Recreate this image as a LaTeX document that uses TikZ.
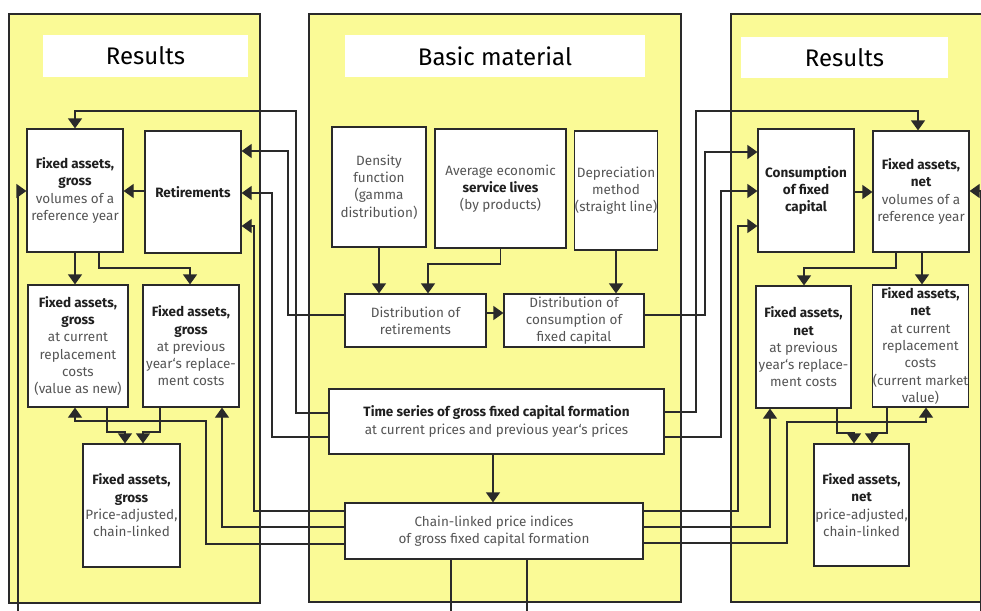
\documentclass[tikz,border=0pt]{standalone}
\usepackage{fontspec}
\setmainfont{Fira Sans}
\usetikzlibrary{arrows.meta}
\definecolor{panelyellow}{HTML}{FAFA96}
\definecolor{txtgray}{HTML}{555555}
\definecolor{linec}{HTML}{2A2A2A}
\newcommand{\bk}[1]{{\bfseries\color{black!88}#1}}
\begin{document}
\begin{tikzpicture}[x=1pt,y=-1pt,
  panel/.style={fill=panelyellow,draw=linec,line width=1.2pt},
  box/.style={draw=linec,fill=white,line width=1.2pt,inner sep=0pt,align=center,
    font=\fontsize{13.5}{17.3}\selectfont,text=txtgray},
  head/.style={fill=white,inner sep=0pt,font=\fontsize{24}{26}\selectfont,text=black},
  conn/.style={draw=linec,line width=1.2pt},
  arr/.style={conn,-{Triangle[width=14pt,length=10pt]}},
]
\fill[white] (0,0) rectangle (981,610);
\useasboundingbox (0,0) rectangle (981,610);

% panels
\draw[panel] (9,14) rectangle (260,603);
\draw[panel] (309,14) rectangle (681,602);
\draw[panel] (731,14) rectangle (990,602);

% headers
\node[head,minimum width=205pt,minimum height=42pt] (hl) at (145.5,56) {Results};
\node[head,minimum width=300pt,minimum height=42pt] (hm) at (495,56) {Basic material};
\node[head,minimum width=207pt,minimum height=41pt] (hr) at (844.5,57.5) {Results};

% left column
\node[box,minimum width=96pt,minimum height=123pt] (fgv) at (75,190.5)
  {\bk{Fixed assets,}\\\bk{gross}\\volumes of a\\reference year};
\node[box,minimum width=96pt,minimum height=122pt] (ret) at (193,192)
  {\bk{Retirements}};
\node[box,minimum width=100pt,minimum height=122pt] (fgc) at (78,346)
  {\bk{Fixed assets,}\\\bk{gross}\\at current\\replacement\\costs\\(value as new)};
\node[box,minimum width=96pt,minimum height=122pt] (fgp) at (191,346)
  {\bk{Fixed assets,}\\\bk{gross}\\at previous\\year‘s replace-\\ment costs};
\node[box,minimum width=97pt,minimum height=123pt] (fga) at (131.5,505.5)
  {\bk{Fixed assets,}\\\bk{gross}\\Price-adjusted,\\chain-linked};

% middle column
\node[box,minimum width=94pt,minimum height=120pt] (dens) at (379,187)
  {Density\\function\\(gamma\\distribution)};
\node[box,minimum width=131pt,minimum height=119pt] (avg) at (500.5,188.5)
  {Average economic\\\bk{service lives}\\(by products)};
\node[box,minimum width=82pt,minimum height=119pt] (dep) at (616,190.5)
  {Depreciation\\method\\(straight line)};
\node[box,minimum width=141pt,minimum height=53pt] (dret) at (415.5,320.5)
  {Distribution of\\retirements};
\node[box,minimum width=140pt,minimum height=53pt] (dcfc) at (574,320.5)
  {Distribution of\\consumption of\\fixed capital};
\node[box,minimum width=335pt,minimum height=65pt] (ts) at (496.5,421.5)
  {\bk{Time series of gross fixed capital formation}\\at current prices and previous year‘s prices};
\node[box,minimum width=298pt,minimum height=56pt] (cl) at (494,531)
  {Chain-linked price indices\\of gross fixed capital formation};

% right column
\node[box,minimum width=96pt,minimum height=123pt] (cfc) at (806,190.5)
  {\bk{Consumption}\\\bk{of fixed}\\\bk{capital}};
\node[box,minimum width=96pt,minimum height=121pt] (fnv) at (921,191.5)
  {\bk{Fixed assets,}\\\bk{net}\\volumes of a\\reference year};
\node[box,minimum width=95pt,minimum height=122pt] (fnp) at (803.5,347)
  {\bk{Fixed assets,}\\\bk{net}\\at previous\\year‘s replace-\\ment costs};
\node[box,minimum width=95pt,minimum height=122pt] (fnc) at (920.5,346)
  {\bk{Fixed assets,}\\\bk{net}\\at current\\replacement\\costs\\(current market\\value)};
\node[box,minimum width=95pt,minimum height=122pt] (fna) at (861.5,505)
  {\bk{Fixed assets,}\\\bk{net}\\price-adjusted,\\chain-linked};

% ---- connectors, left side
\draw[arr] (ts.west |- 0,413) -| (296,111) -| (fgv.north -| 75,0);
\draw[arr] (dret.west |- 0,315) -| (288,151) -- (ret.east |- 0,151);
\draw[arr] (ts.west |- 0,437) -| (272,193) -- (ret.east |- 0,193);
\draw[arr] (cl.west |- 0,511) -| (254,226) -- (ret.east |- 0,226);
\draw[arr] (cl.west |- 0,527) -| (fgp.south -| 222,0);
\draw[arr] (cl.west |- 0,544) -| (206,421) -| (fgc.south -| 75,0);
\draw[arr] (ret.west |- 0,191) -- (fgv.east |- 0,191);
\draw[arr] (18,612) |- (fgv.west |- 0,191);
\draw[arr] (fgv.south -| 75,0) -- (fgc.north -| 75,0);
\draw[arr] (fgv.south -| 99,0) |- (190,268) -- (fgp.north -| 190,0);
\draw[arr] (fgc.south -| 107,0) |- (125,432) -- (fga.north -| 125,0);
\draw[arr] (fgp.south -| 160,0) |- (143,432) -- (fga.north -| 143,0);

% ---- connectors, middle
\draw[arr] (dens.south) -- (dens.south |- dret.north);
\draw[arr] (avg.south) |- (428,264) -- (dret.north -| 428,0);
\draw[arr] (dep.south) -- (dep.south |- dcfc.north);
\draw[arr] (dret.east |- 0,313) -- (dcfc.west |- 0,313);
\draw[arr] (ts.south -| 493,0) -- (cl.north -| 493,0);
\draw[conn] (cl.south -| 451,0) -- (451,612);
\draw[conn] (cl.south -| 527,0) -- (527,612);

% ---- connectors, right side
\draw[arr] (ts.east |- 0,412) -| (696,111) -| (fnv.north -| 918,0);
\draw[arr] (dcfc.east |- 0,315) -| (705,152) -- (cfc.west |- 0,152);
\draw[arr] (ts.east |- 0,437) -| (721,191) -- (cfc.west |- 0,191);
\draw[arr] (cl.east |- 0,511) -| (738,226) -- (cfc.west |- 0,226);
\draw[arr] (cl.east |- 0,527) -| (fnp.south -| 770,0);
\draw[arr] (cl.east |- 0,543) -| (787,422) -| (fnc.south -| 926,0);
\draw[arr] (cfc.east |- 0,192) -- (fnv.west |- 0,192);
\draw[arr] (980.5,612) |- (fnv.east |- 0,191);
\draw[arr] (fnv.south -| 896,0) |- (804,268) -- (fnp.north -| 804,0);
\draw[arr] (fnv.south -| 922,0) -- (fnc.north -| 922,0);
\draw[arr] (fnp.south -| 837,0) |- (854,433) -- (fna.north -| 854,0);
\draw[arr] (fnc.south -| 887,0) |- (872,433) -- (fna.north -| 872,0);
\end{tikzpicture}
\end{document}
